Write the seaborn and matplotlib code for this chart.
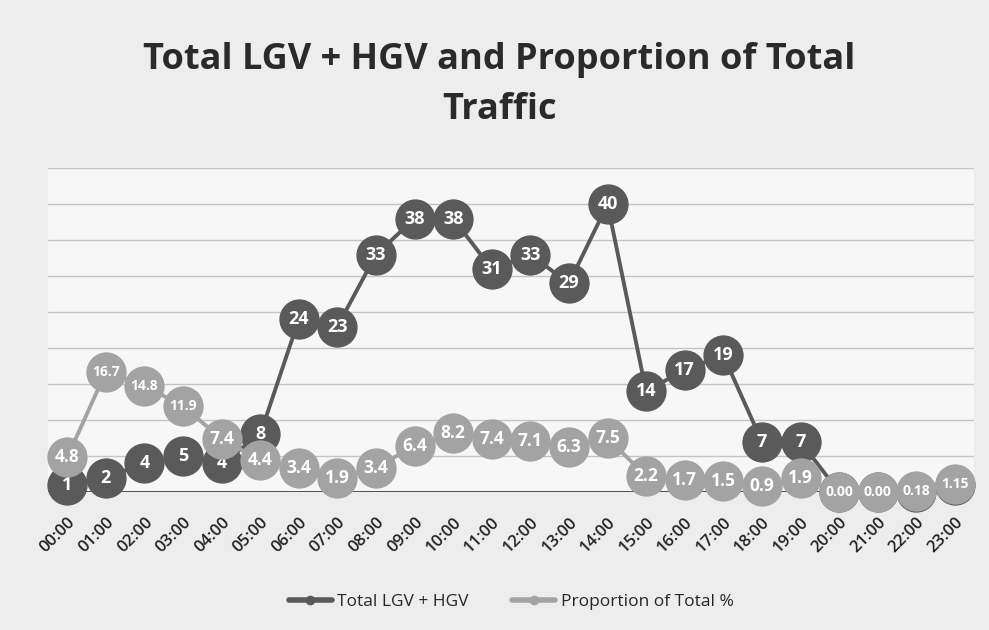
import matplotlib.pyplot as plt
import pandas as pd
import seaborn as sns

# Hourly values
hours = [f"{h:02d}:00" for h in range(24)]
total_lgv_hgv = [1, 2, 4, 5, 4, 8, 24, 23, 33, 38, 38, 31, 33, 29, 40, 14, 17, 19,
                 7, 7, 0, 0, 0, 1]
proportion_pct = [4.8, 16.7, 14.8, 11.9, 7.4, 4.4, 3.4, 1.9, 3.4, 6.4, 8.2, 7.4,
                  7.1, 6.3, 7.5, 2.2, 1.7, 1.5, 0.9, 1.9, 0.00, 0.00, 0.18, 1.15]
proportion_labels = ["4.8", "16.7", "14.8", "11.9", "7.4", "4.4", "3.4", "1.9",
                     "3.4", "6.4", "8.2", "7.4", "7.1", "6.3", "7.5", "2.2", "1.7",
                     "1.5", "0.9", "1.9", "0.00", "0.00", "0.18", "1.15"]
series_names = ["Total LGV + HGV", "Proportion of Total %"]
colors = ["#5a5a5a", "#a3a3a3"]


def plot_lgv_hgv():
    df = pd.DataFrame({
        "pos": list(range(len(hours))) * 2,
        "value": total_lgv_hgv + proportion_pct,
        "series": [series_names[0]] * len(hours) + [series_names[1]] * len(hours),
    })

    sns.set_style("white")
    plt.rcParams["font.family"] = ["Open Sans", "DejaVu Sans"]

    fig = plt.figure(figsize=(9.89, 6.3), dpi=100, facecolor="#ededed")
    ax = fig.add_axes([0.0485, 0.219, 0.9365, 0.514])
    ax.set_facecolor("#f7f7f7")

    sns.lineplot(
        data=df, x="pos", y="value", hue="series", hue_order=series_names,
        palette=colors, marker="o", markersize=29, linewidth=2.8,
        markeredgewidth=0, sort=False, ax=ax,
    )
    # light series sits on top of the dark one, markers not clipped at the base
    for line in ax.lines:
        line.set_clip_on(False)
    ax.lines[1].set_zorder(3)

    # counts sitting right under a proportion marker are hidden, so no label
    for i, (v, p) in enumerate(zip(total_lgv_hgv, proportion_pct)):
        if abs(v - p) > 1.5:
            ax.text(i, v, str(v), ha="center", va="center", color="white",
                    fontsize=13, fontweight="bold", zorder=2.5)
    for i, (v, lab) in enumerate(zip(proportion_pct, proportion_labels)):
        ax.text(i, v, lab, ha="center", va="center", color="white",
                fontsize=12.5 if len(lab) < 4 else 10, fontweight="bold", zorder=4)

    ax.set_xlim(-0.5, len(hours) - 0.5)
    ax.set_ylim(0, 45)
    ax.set_yticks(range(0, 46, 5))
    ax.set_yticklabels([])
    ax.tick_params(axis="y", length=0)
    ax.grid(axis="y", color="#c4c4c4", linewidth=1)
    ax.axhline(0, color="#404040", linewidth=2, zorder=1)
    for s in ax.spines.values():
        s.set_visible(False)

    ax.set_xticks(range(len(hours)))
    ax.set_xticklabels(hours, rotation=45, ha="right", rotation_mode="anchor",
                       fontsize=12, fontweight="semibold", color="#222222")
    ax.tick_params(axis="x", length=0, pad=16)
    ax.set_xlabel("")
    ax.set_ylabel("")

    fig.text(0.505, 0.865, "Total LGV + HGV and Proportion of Total\nTraffic",
             ha="center", va="center", fontsize=26, fontweight="bold",
             color="#2a2a2a", linespacing=1.5)

    leg = ax.legend(loc="center", bbox_to_anchor=(0.5, -0.34), ncol=2,
                    frameon=False, fontsize=12.5, handlelength=2.5,
                    columnspacing=2.5, handletextpad=0.3)
    for h in leg.legend_handles:
        h.set_markersize(7)
        h.set_linewidth(4)

    fig.savefig("out.png", dpi=100, facecolor=fig.get_facecolor())
    plt.close(fig)


if __name__ == "__main__":
    plot_lgv_hgv()
